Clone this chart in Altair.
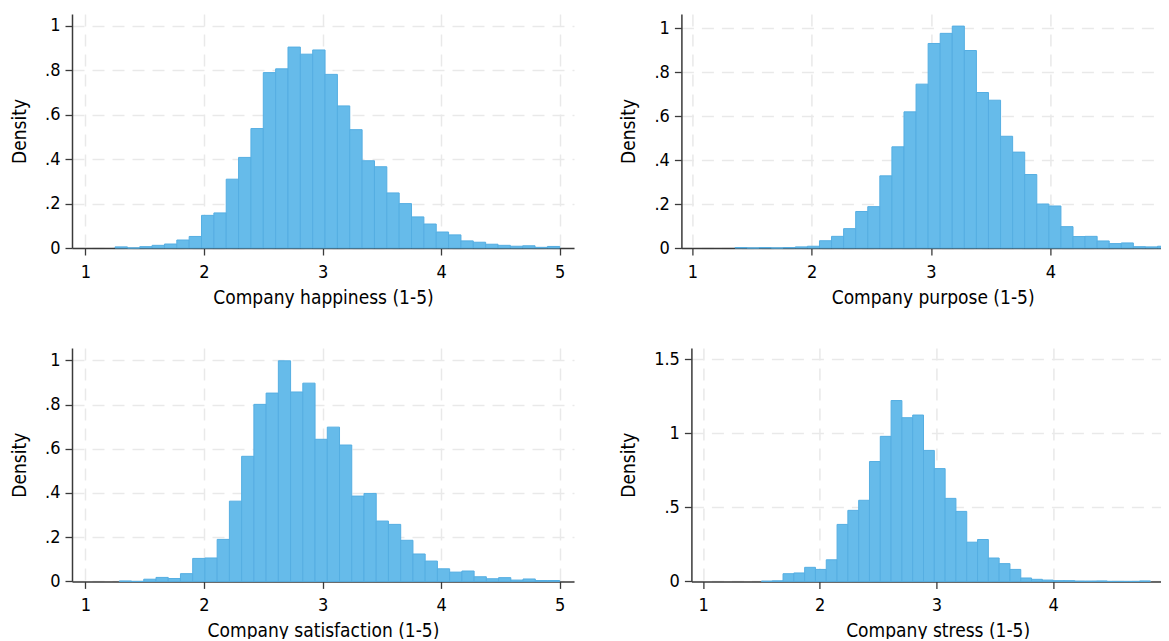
import altair as alt
import pandas as pd

# ---- data (density per bin, 36 bins per panel) ----
happiness_density = [0.005, 0.0, 0.006, 0.012, 0.018, 0.036, 0.052, 0.147, 0.158, 0.31,
                     0.408, 0.538, 0.79, 0.807, 0.905, 0.873, 0.892, 0.782, 0.64, 0.533,
                     0.393, 0.366, 0.248, 0.2, 0.14, 0.108, 0.072, 0.059, 0.032, 0.026,
                     0.017, 0.012, 0.008, 0.01, 0.003, 0.007]
happiness_range = [1.25, 5.0]

purpose_density = [0.002, 0.0, 0.002, 0.0, 0.002, 0.005, 0.008, 0.033, 0.053, 0.088,
                   0.166, 0.188, 0.328, 0.46, 0.619, 0.745, 0.93, 0.976, 1.009, 0.898,
                   0.707, 0.672, 0.508, 0.436, 0.334, 0.2, 0.191, 0.097, 0.052, 0.053,
                   0.032, 0.02, 0.023, 0.006, 0.005, 0.008]
purpose_range = [1.357, 5.0]

satisfaction_density = [0.002, 0.0, 0.01, 0.018, 0.013, 0.035, 0.104, 0.106, 0.19, 0.363,
                        0.566, 0.801, 0.852, 0.998, 0.857, 0.897, 0.643, 0.698, 0.617, 0.386,
                        0.398, 0.273, 0.258, 0.186, 0.124, 0.092, 0.057, 0.042, 0.047, 0.021,
                        0.012, 0.017, 0.006, 0.011, 0.004, 0.004]
satisfaction_range = [1.2857, 5.0]

stress_density = [0.002, 0.004, 0.052, 0.057, 0.095, 0.081, 0.146, 0.385, 0.48, 0.548,
                  0.81, 0.98, 1.222, 1.106, 1.124, 0.885, 0.762, 0.561, 0.473, 0.265,
                  0.283, 0.158, 0.12, 0.081, 0.023, 0.014, 0.009, 0.005, 0.005, 0.002,
                  0.002, 0.003, 0.0, 0.0, 0.0, 0.003]
stress_range = [1.5, 4.8333]

x_ticks = [1, 2, 3, 4, 5]
y_ticks_small = [0, 0.2, 0.4, 0.6, 0.8, 1]
y_ticks_stress = [0, 0.5, 1, 1.5]

titles = ["Company happiness (1-5)", "Company purpose (1-5)",
          "Company satisfaction (1-5)", "Company stress (1-5)"]

FONT = "DejaVu Sans Condensed, DejaVu Sans"
FILL = "#66bbea"
EDGE = "#55aee2"
AXIS = "#3a3a3a"
GRID = "#e9e9e9"


def hist_frame(dens, rng):
    n = len(dens)
    w = (rng[1] - rng[0]) / n
    return pd.DataFrame({
        "start": [rng[0] + i * w for i in range(n)],
        "end": [rng[0] + (i + 1) * w for i in range(n)],
        "density": dens,
        "base": [0.0] * n,
    })


def panel(dens, rng, title, xdom, ydom, yticks, width, height):
    df = hist_frame(dens, rng)
    return alt.Chart(df).mark_rect(
        fill=FILL, stroke=EDGE, strokeWidth=1
    ).encode(
        x=alt.X("start:Q",
                scale=alt.Scale(domain=xdom, nice=False, zero=False),
                axis=alt.Axis(values=x_ticks, title=title, format="d",
                              grid=True, gridDash=[12, 8], gridColor=GRID, gridWidth=1.5,
                              labelPadding=8, titlePadding=7)),
        x2="end:Q",
        y=alt.Y("density:Q",
                scale=alt.Scale(domain=ydom, nice=False, zero=True),
                axis=alt.Axis(values=yticks, title="Density",
                              labelExpr="replace(format(datum.value, '~g'), '0.', '.')",
                              grid=True, gridDash=[12, 8], gridColor=GRID, gridWidth=1.5,
                              labelPadding=5, titlePadding=15)),
        y2="base:Q",
    ).properties(width=width, height=height)


p1 = panel(happiness_density, happiness_range, titles[0], [0.887, 5.12], [0, 1.054], y_ticks_small, 502, 234)
p2 = panel(purpose_density, purpose_range, titles[1], [0.908, 5.12], [0, 1.064], y_ticks_small, 502.5, 234)
p3 = panel(satisfaction_density, satisfaction_range, titles[2], [0.887, 5.12], [0, 1.056], y_ticks_small, 502, 233.4)
p4 = panel(stress_density, stress_range, titles[3], [0.9, 5.12], [0, 1.577], y_ticks_stress, 492.5, 233.4)

row1 = alt.hconcat(p1, p2, spacing=107.4, bounds="flush")
row2 = alt.hconcat(p3, p4, spacing=117.4, bounds="flush")

chart = alt.vconcat(row1, row2, spacing=41).properties(
    padding={"left": 2, "top": 6, "right": -23, "bottom": -2},
    background="white",
).configure_view(stroke=None).configure_axis(
    domainColor=AXIS, domainWidth=1.5, tickColor=AXIS, tickWidth=1.3, tickSize=7,
    labelFont=FONT, titleFont=FONT, labelFontSize=18, titleFontSize=19,
    labelColor="#000000", titleColor="#000000", titleFontWeight="normal",
)

chart.save("out.html", embed_options={"renderer": "svg", "actions": False})
